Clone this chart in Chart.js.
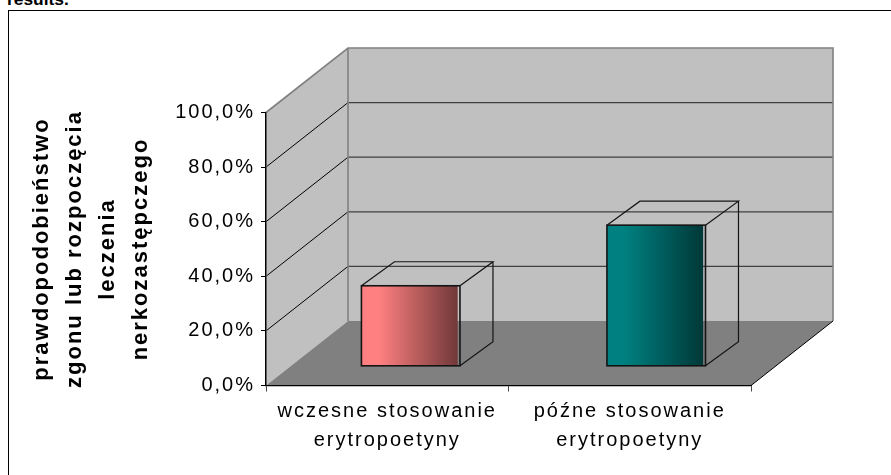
<!DOCTYPE html>
<html lang="pl">
<head>
<meta charset="utf-8">
<title>Prawdopodobieństwo zgonu</title>
<script src="https://cdn.jsdelivr.net/npm/chart.js@4"></script>
<style>
  html, body { margin: 0; padding: 0; background: #fff; overflow: hidden; }
  #wrap { position: relative; width: 891px; height: 475px; overflow: hidden; }
  #frame { position: absolute; left: 8px; top: 10px; right: 0; bottom: 0; box-sizing: border-box;
           border-top: 1.5px solid #000; border-left: 1.5px solid #000; }
  #note { position: absolute; left: 7px; top: -11px; font: bold 17.4px/20px "Liberation Sans", Arial, sans-serif; color: #000; }
  canvas { position: absolute; left: 0; top: 0; }
</style>
</head>
<body>
<div id="wrap">
  <div id="note">results.</div>
  <canvas id="chart" width="891" height="475"></canvas>
  <div id="frame"></div>
</div>
<script>
const categories = [
  ["wczesne stosowanie", "erytropoetyny"],
  ["późne stosowanie", "erytropoetyny"]
];
const seriesValues = [29.5, 51.7];
const axisTitle = [
  "prawdopodobieństwo",
  "zgonu lub rozpoczęcia",
  "leczenia",
  "nerkozastępczego"
];
const barColors = [
  ["#FF8080", "#703838"],
  ["#008080", "#003838"]
];

// Oblique projection of the box: how far the back plane sits from the front plane.
const DEPTH_X = 82, DEPTH_Y = -64.5;
// Bars stand partway into the floor, and their row is slightly wider than the front axis.
const BAR_STRETCH = 1.0124, BAR_SHIFT_X = 17.5, BAR_SHIFT_Y = -19.2;
// Side length of each bar's wireframe extrusion.
const BOX_X = 33, BOX_Y = -24;
// The front outline overhangs the gradient fill on its right side.
const OUTLINE_OVERHANG = 2.3;
const BAR_FRACTION = 0.392;

function polygon(ctx, pts, fill) {
  ctx.beginPath();
  pts.forEach((p, i) => i ? ctx.lineTo(p[0], p[1]) : ctx.moveTo(p[0], p[1]));
  ctx.closePath();
  ctx.fillStyle = fill;
  ctx.fill();
}

const room3d = {
  id: "room3d",
  beforeDraw(chart) {
    const { ctx, scales: { x, y } } = chart;
    ctx.letterSpacing = "2px";
    const l = x.left, r = x.right, b = y.getPixelForValue(0), t = y.getPixelForValue(100);
    ctx.save();
    // back wall
    polygon(ctx, [[l + DEPTH_X, t + DEPTH_Y], [r + DEPTH_X, t + DEPTH_Y], [r + DEPTH_X, b + DEPTH_Y], [l + DEPTH_X, b + DEPTH_Y]], "#C0C0C0");
    // left wall
    polygon(ctx, [[l, b], [l, t], [l + DEPTH_X, t + DEPTH_Y], [l + DEPTH_X, b + DEPTH_Y]], "#C0C0C0");
    // gridlines wrapping both walls
    y.ticks.forEach(tk => {
      if (tk.value === 0 || tk.value === 100) return;
      const py = y.getPixelForValue(tk.value);
      ctx.lineWidth = 1;
      ctx.strokeStyle = "#000";
      ctx.beginPath(); ctx.moveTo(l, py); ctx.lineTo(l + DEPTH_X, py + DEPTH_Y); ctx.stroke();
      ctx.strokeStyle = "#404040";
      ctx.lineWidth = 1.2;
      ctx.beginPath(); ctx.moveTo(l + DEPTH_X, py + DEPTH_Y); ctx.lineTo(r + DEPTH_X, py + DEPTH_Y); ctx.stroke();
    });
    // wall edges
    ctx.strokeStyle = "#808080";
    ctx.lineWidth = 1.6;
    ctx.beginPath();
    ctx.moveTo(l, t); ctx.lineTo(l + DEPTH_X, t + DEPTH_Y); ctx.lineTo(r + DEPTH_X, t + DEPTH_Y); ctx.lineTo(r + DEPTH_X, b + DEPTH_Y);
    ctx.moveTo(l + DEPTH_X, t + DEPTH_Y); ctx.lineTo(l + DEPTH_X, b + DEPTH_Y);
    ctx.moveTo(l, t); ctx.lineTo(l, b);
    ctx.stroke();
    // floor
    polygon(ctx, [[l, b], [r, b], [r + DEPTH_X, b + DEPTH_Y], [l + DEPTH_X, b + DEPTH_Y]], "#808080");
    ctx.strokeStyle = "#000";
    ctx.lineWidth = 1;
    ctx.beginPath(); ctx.moveTo(r, b); ctx.lineTo(r + DEPTH_X, b + DEPTH_Y); ctx.stroke();
    ctx.restore();
  },
  beforeDatasetsDraw(chart) {
    chart.ctx.save();
    chart.ctx.transform(BAR_STRETCH, 0, 0, 1, BAR_SHIFT_X, BAR_SHIFT_Y);
  },
  afterDatasetsDraw(chart) {
    const ctx = chart.ctx;
    ctx.restore();
    ctx.save();
    ctx.strokeStyle = "#141414";
    chart.getDatasetMeta(0).data.forEach(bar => {
      const p = bar.getProps(["x", "y", "base", "width"], true);
      const x0 = (p.x - p.width / 2) * BAR_STRETCH + BAR_SHIFT_X;
      const x1 = (p.x + p.width / 2) * BAR_STRETCH + BAR_SHIFT_X + OUTLINE_OVERHANG;
      const yT = p.y + BAR_SHIFT_Y, yB = p.base + BAR_SHIFT_Y;
      // front face outline
      ctx.lineWidth = 1.6;
      ctx.strokeRect(x0, yT, x1 - x0, yB - yT);
      // top and side of the extrusion, left unfilled
      ctx.lineWidth = 1.2;
      ctx.beginPath();
      ctx.moveTo(x0, yT); ctx.lineTo(x0 + BOX_X, yT + BOX_Y); ctx.lineTo(x1 + BOX_X, yT + BOX_Y);
      ctx.lineTo(x1, yT);
      ctx.moveTo(x1 + BOX_X, yT + BOX_Y); ctx.lineTo(x1 + BOX_X, yB + BOX_Y); ctx.lineTo(x1, yB);
      ctx.stroke();
    });
    ctx.restore();
  }
};

function barGradient(c) {
  const chart = c.chart, x = chart.scales.x;
  const stops = barColors[c.dataIndex || 0];
  if (!x || c.dataIndex === undefined) return stops[0];
  const mid = x.getPixelForValue(c.dataIndex);
  const half = (x.width / categories.length) * BAR_FRACTION / 2;
  if (!Number.isFinite(mid) || !Number.isFinite(half)) return stops[0];
  const g = chart.ctx.createLinearGradient(mid - half, 0, mid + half, 0);
  g.addColorStop(0, stops[0]);
  g.addColorStop(0.18, stops[0]);
  g.addColorStop(1, stops[1]);
  return g;
}

new Chart(document.getElementById("chart"), {
  type: "bar",
  data: {
    labels: categories,
    datasets: [{
      data: seriesValues,
      backgroundColor: barGradient,
      borderWidth: 0,
      barPercentage: 1,
      categoryPercentage: BAR_FRACTION,
      clip: false
    }]
  },
  plugins: [room3d],
  options: {
    responsive: false,
    animation: false,
    layout: { padding: { left: 0, top: 112.5, right: 140, bottom: 0 } },
    plugins: { legend: { display: false }, tooltip: { enabled: false }, title: { display: false } },
    scales: {
      x: {
        afterFit(s) { s.height = 89.5; },
        border: { color: "#000", width: 1.3 },
        grid: { drawOnChartArea: false, color: "#444", tickLength: 6 },
        ticks: {
          color: "#000", maxRotation: 0, autoSkip: false, padding: 5,
          font: { family: "'Liberation Sans', Arial, sans-serif", size: 20, lineHeight: 1.45 }
        }
      },
      y: {
        min: 0, max: 100,
        afterFit(s) { s.width = 266; },
        border: { color: "#000", width: 1.3 },
        grid: { drawOnChartArea: false, color: "#000", tickLength: 5 },
        ticks: {
          stepSize: 20, color: "#000", padding: 6,
          font: { family: "'Liberation Sans', Arial, sans-serif", size: 20 },
          callback: v => v.toFixed(1).replace(".", ",") + "%"
        },
        title: {
          display: true, text: axisTitle, color: "#000",
          padding: { top: 25, bottom: 0 },
          font: { family: "'Liberation Sans', Arial, sans-serif", size: 22, weight: "bold", lineHeight: 1.5 }
        }
      }
    }
  }
});
</script>
</body>
</html>
